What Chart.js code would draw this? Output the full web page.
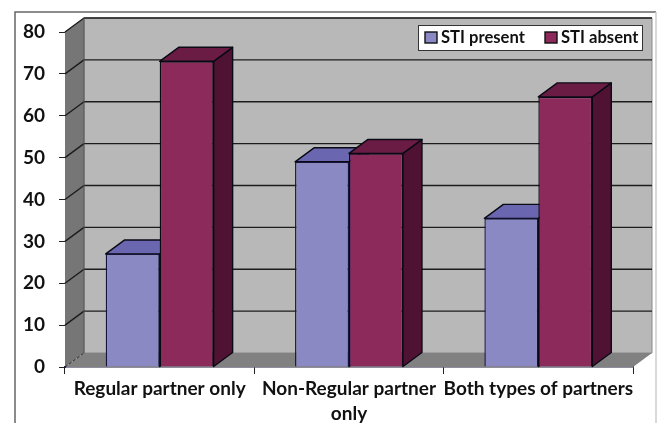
<!DOCTYPE html>
<html>
<head>
<meta charset="utf-8">
<title>STI by partner type</title>
<style>
  html, body { margin: 0; padding: 0; background: #fff; }
  canvas { display: block; }
</style>
<script src="https://cdn.jsdelivr.net/npm/chart.js@4"></script>
</head>
<body>
<canvas id="chart" width="657" height="423"></canvas>
<script>
const categories = ['Regular partner only', ['Non-Regular partner', 'only'], 'Both types of partners'];
const stiPresent = [27, 49, 35.5];
const stiAbsent = [73, 51, 64.5];
const yTicks = [0, 10, 20, 30, 40, 50, 60, 70, 80];

// offset of the back wall from the front plane
const depthX = 19;
const depthY = 14;
const fontFamily = 'Lato, "Open Sans", sans-serif';

function fillPoly(ctx, pts, fill, stroke, lineWidth) {
  ctx.beginPath();
  pts.forEach((p, i) => (i ? ctx.lineTo(p[0], p[1]) : ctx.moveTo(p[0], p[1])));
  ctx.closePath();
  ctx.fillStyle = fill;
  ctx.fill();
  if (stroke) {
    ctx.strokeStyle = stroke;
    ctx.lineWidth = lineWidth;
    ctx.lineJoin = 'round';
    ctx.stroke();
  }
}

const framePlugin = {
  id: 'frame',
  beforeDraw(chart) {
    const ctx = chart.ctx;
    ctx.save();
    ctx.lineWidth = 1.5;
    ctx.strokeStyle = '#666';
    ctx.beginPath();
    ctx.moveTo(15, 423);
    ctx.lineTo(15, 12);
    ctx.lineTo(656, 12);
    ctx.stroke();
    ctx.strokeStyle = '#ccc';
    ctx.beginPath();
    ctx.moveTo(656, 12);
    ctx.lineTo(656, 423);
    ctx.stroke();
    ctx.restore();
  }
};

// back wall, left wall, floor and the gridlines running across them
const wallsPlugin = {
  id: 'walls',
  beforeDatasetsDraw(chart) {
    const ctx = chart.ctx;
    const { left, right, top, bottom } = chart.chartArea;
    const y = chart.scales.y;
    ctx.save();
    fillPoly(ctx, [[left + depthX, top - depthY], [right + depthX, top - depthY], [right + depthX, bottom - depthY], [left + depthX, bottom - depthY]], '#b8b8b8', '#8a8a8a', 1);
    fillPoly(ctx, [[left, top], [left + depthX, top - depthY], [left + depthX, bottom - depthY], [left, bottom]], '#767676');
    fillPoly(ctx, [[left, bottom], [left + depthX, bottom - depthY], [right + depthX, bottom - depthY], [right, bottom]], '#818181');

    ctx.strokeStyle = '#1c1c1c';
    ctx.lineWidth = 1.4;
    yTicks.forEach(v => {
      const py = y.getPixelForValue(v);
      if (v === 0) return;
      ctx.beginPath();
      ctx.moveTo(left, py);
      ctx.lineTo(left + depthX, py - depthY);
      ctx.lineTo(right + depthX, py - depthY);
      ctx.stroke();
    });
    ctx.strokeStyle = '#555';
    ctx.lineWidth = 1;
    ctx.beginPath();
    ctx.moveTo(left + depthX, top - depthY);
    ctx.lineTo(left + depthX, bottom - depthY);
    ctx.stroke();

    // dashed corner where the left wall meets the floor
    ctx.strokeStyle = '#222';
    ctx.setLineDash([3, 2]);
    ctx.beginPath();
    ctx.moveTo(left, bottom);
    ctx.lineTo(left + depthX, bottom - depthY);
    ctx.stroke();
    ctx.restore();
  }
};

// top and side faces of each bar; the fronts are the chart's own bars
const bar3dPlugin = {
  id: 'bar3d',
  beforeDatasetsDraw(chart) {
    const ctx = chart.ctx;
    ctx.save();
    chart.data.datasets.forEach((ds, i) => {
      chart.getDatasetMeta(i).data.forEach(el => {
        const x0 = el.x - el.width / 2;
        const x1 = el.x + el.width / 2;
        fillPoly(ctx, [[x1, el.y], [x1 + depthX, el.y - depthY], [x1 + depthX, el.base - depthY], [x1, el.base]], ds.sideColor, '#0a0a14', 1.4);
        fillPoly(ctx, [[x0, el.y], [x0 + depthX, el.y - depthY], [x1 + depthX, el.y - depthY], [x1, el.y]], ds.topColor, '#0a0a14', 1.4);
      });
    });
    ctx.restore();
  }
};

// legend box sits inside the plot, top right
const legendBoxPlugin = {
  id: 'legendBox',
  afterDatasetsDraw(chart) {
    const ctx = chart.ctx;
    ctx.save();
    ctx.fillStyle = '#fff';
    ctx.fillRect(418, 25, 225, 26);
    ctx.strokeStyle = '#333';
    ctx.lineWidth = 1;
    ctx.strokeRect(418.5, 25.5, 224, 25);
    ctx.font = 'bold 16.6px ' + fontFamily;
    ctx.textBaseline = 'alphabetic';
    const starts = [425, 545];
    chart.data.datasets.forEach((ds, i) => {
      ctx.fillStyle = ds.backgroundColor;
      ctx.fillRect(starts[i], 32, 12, 11);
      ctx.strokeStyle = '#111';
      ctx.lineWidth = 1.4;
      ctx.strokeRect(starts[i], 32, 12, 11);
      ctx.fillStyle = '#111';
      ctx.fillText(ds.label, starts[i] + 16, 43);
    });
    ctx.restore();
  }
};

new Chart(document.getElementById('chart'), {
  type: 'bar',
  data: {
    labels: categories,
    datasets: [
      {
        label: 'STI present',
        data: stiPresent,
        backgroundColor: '#8b89c3',
        topColor: '#6a66b0',
        sideColor: '#55528f',
        borderColor: '#14143c',
        borderWidth: 1.4
      },
      {
        label: 'STI absent',
        data: stiAbsent,
        backgroundColor: '#8c2a5c',
        topColor: '#6b1c45',
        sideColor: '#501233',
        borderColor: '#0a0a14',
        borderWidth: 1.4
      }
    ]
  },
  options: {
    responsive: false,
    animation: false,
    layout: { padding: { top: 32, right: 24, left: 0, bottom: 0 } },
    datasets: { bar: { categoryPercentage: 0.57, barPercentage: 1 } },
    plugins: { legend: { display: false }, tooltip: { enabled: false } },
    scales: {
      x: {
        afterFit(scale) { scale.height = 56; },
        grid: { drawOnChartArea: false, color: '#222', tickLength: 7, offset: true },
        border: { color: '#1c1c3c', width: 1.4 },
        ticks: {
          color: '#111',
          maxRotation: 0,
          autoSkip: false,
          padding: 2,
          font: { family: fontFamily, size: 19, weight: 'bold', lineHeight: 1.32 }
        }
      },
      y: {
        min: 0,
        max: 80,
        afterFit(scale) { scale.width = 65; },
        grid: { drawOnChartArea: false, color: '#222', tickLength: 6 },
        border: { color: '#222', width: 1 },
        ticks: {
          stepSize: 10,
          color: '#111',
          padding: 14,
          font: { family: fontFamily, size: 19, weight: 'bold' }
        }
      }
    }
  },
  plugins: [framePlugin, wallsPlugin, bar3dPlugin, legendBoxPlugin]
});
</script>
</body>
</html>
